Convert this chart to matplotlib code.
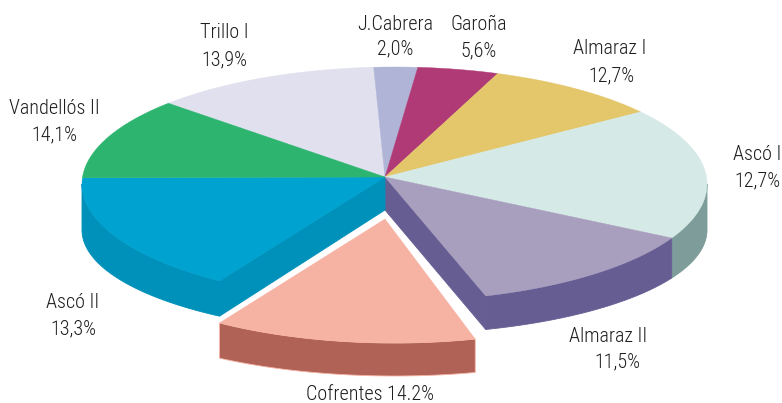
import numpy as np
import matplotlib
matplotlib.use("Agg")
import matplotlib.pyplot as plt

# Data
plants = ["Trillo I", "J.Cabrera", "Garoña", "Almaraz I", "Ascó I",
          "Almaraz II", "Cofrentes", "Ascó II", "Vandellós II"]
shares = [13.9, 2.0, 5.6, 12.7, 12.7, 11.5, 14.2, 13.3, 14.1]
share_labels = ["13,9%", "2,0%", "5,6%", "12,7%", "12,7%",
                "11,5%", "14.2%", "13,3%", "14,1%"]

# Style
top_colors = ["#E0E0EE", "#B0B4D6", "#AF3A75", "#E4C76B", "#D5E9E7",
              "#A89EBE", "#F6B3A4", "#00A2D0", "#2DB56F"]
wall_colors = ["#B5B5C6", "#8A8EB0", "#86295A", "#B79E50", "#7E9D9A",
               "#665E93", "#B06257", "#0091BB", "#22915A"]
# The hand-drawn perspective in the original stretches some slices
sweep_stretch = [0.851, 1.125, 0.744, 0.715, 1.433, 1.10, 0.998, 1.232, 0.80]
start_angle = 136.4
exploded = "Cofrentes"
exploded_trim = 2.0

# Layout in figure pixels
CX, RX = 394.5, 312.5
TOP_CY, TOP_RY = 184.0, 117.0
BOT_CY, BOT_RY = 230.0, 104.0
APEX = (385.0, 177.0)
APEX_DEPTH = 33.0
EXPLODE_DY = 42.0

label_pos = {
    "Trillo I": ((224, 32), (224, 60)),
    "J.Cabrera": ((395, 24), (395, 49)),
    "Garoña": ((479, 25), (479, 51)),
    "Almaraz I": ((610, 49), (611, 76)),
    "Ascó I": ((757, 155), (757, 181)),
    "Almaraz II": ((608, 336), (617, 362)),
    "Ascó II": ((73, 303), (73, 329)),
    "Vandellós II": ((54, 108), (54, 135)),
}
cofrentes_pos = (370, 395)
FONT = ["Roboto Condensed", "Liberation Sans"]
FSIZE = 14.5
TEXT_KW = dict(ha="center", va="center", family=FONT, fontsize=FSIZE,
               fontweight="light", color="#1E1E1E", zorder=5)


def rim(t0, t1, cy, ry, dy=0.0, n=80):
    t = np.radians(np.linspace(t0, t1, n))
    return np.column_stack([CX + RX * np.cos(t), cy - ry * np.sin(t) + dy])


def band(t0, t1, dy=0.0):
    a = rim(t0, t1, TOP_CY, TOP_RY, dy)
    b = rim(t0, t1, BOT_CY, BOT_RY, dy)
    return np.vstack([a, b[::-1]])


def cut_face(t):
    a = rim(t, t, TOP_CY, TOP_RY, n=1)[0]
    b = rim(t, t, BOT_CY, BOT_RY, n=1)[0]
    return np.array([APEX, a, b, (APEX[0], APEX[1] + APEX_DEPTH)])


fig = plt.figure(figsize=(7.82, 4.03), dpi=100)
ax = fig.add_axes([0, 0, 1, 1])
ax.set_xlim(0, 782)
ax.set_ylim(403, 0)
ax.axis("off")

sweeps = np.array(shares) * 3.6 * np.array(sweep_stretch)
edges = start_angle - np.concatenate([[0], np.cumsum(sweeps)])

for i, name in enumerate(plants):
    t0, t1 = edges[i], edges[i + 1]
    is_exp = name == exploded
    if is_exp:
        t0 -= exploded_trim
    dy = EXPLODE_DY if is_exp else 0.0
    apex = (APEX[0], APEX[1] + dy)

    # Only the front half of the cylinder shows a wall
    hi, lo = min(t0, 0.0), max(t1, -180.0)
    if hi > lo:
        poly = band(hi, lo, dy)
        ax.fill(poly[:, 0], poly[:, 1], facecolor=wall_colors[i],
                edgecolor="#F6B3A4" if is_exp else wall_colors[i],
                lw=0.6, zorder=2)

    # Cut faces beside the exploded slice
    if plants[(i + 1) % len(plants)] == exploded:
        poly = cut_face(t1)
        ax.fill(poly[:, 0], poly[:, 1], facecolor=wall_colors[i],
                edgecolor=wall_colors[i], lw=0.6, zorder=2)
    if i > 0 and plants[i - 1] == exploded:
        poly = cut_face(t0)
        ax.fill(poly[:, 0], poly[:, 1], facecolor=wall_colors[i],
                edgecolor=wall_colors[i], lw=0.6, zorder=2)

    poly = np.vstack([[apex], rim(t0, t1, TOP_CY, TOP_RY, dy)])
    ax.fill(poly[:, 0], poly[:, 1], facecolor=top_colors[i],
            edgecolor=top_colors[i], lw=0.3, zorder=3)

    if is_exp:
        ax.text(*cofrentes_pos, f"{name} {share_labels[i]}", **TEXT_KW)
    else:
        p1, p2 = label_pos[name]
        ax.text(*p1, name, **TEXT_KW)
        ax.text(*p2, share_labels[i], **TEXT_KW)

fig.savefig("out.png", dpi=100, facecolor="white")
